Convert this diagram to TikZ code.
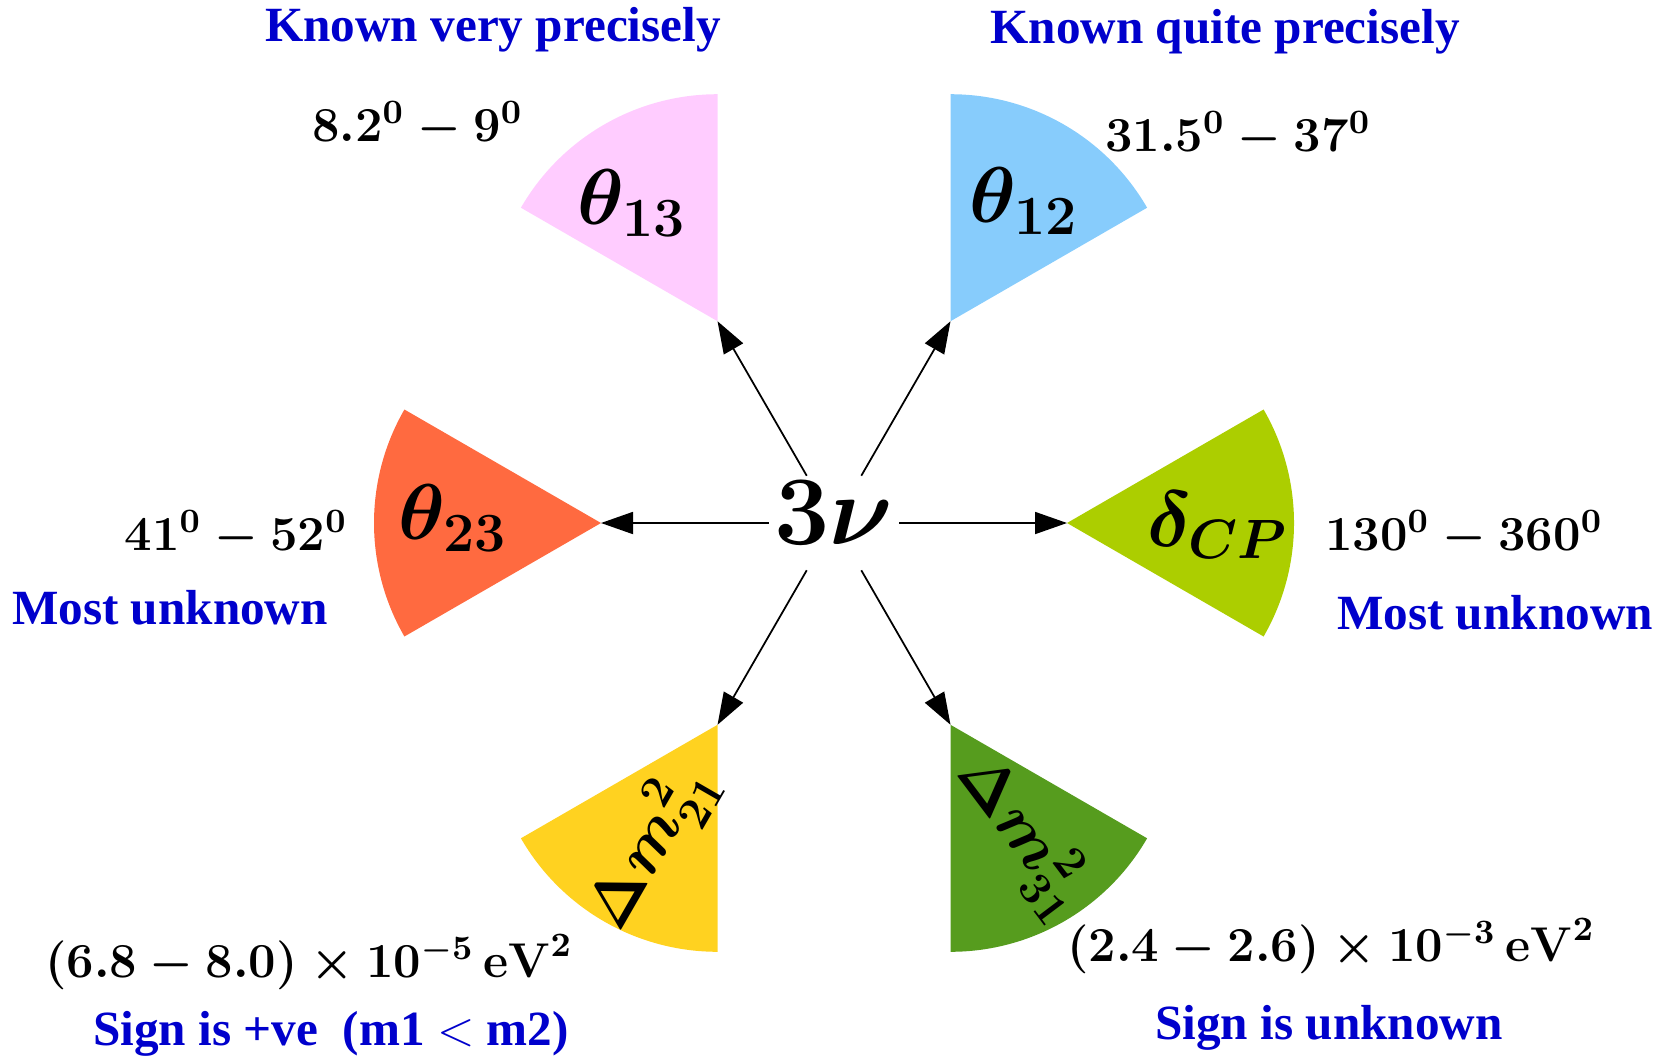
\RequirePackage{fix-cm}
\documentclass[tikz,border=0pt]{standalone}
\definecolor{pinkfill}{RGB}{255,204,255}
\definecolor{skyfill}{RGB}{135,204,252}
\definecolor{tomatofill}{RGB}{255,106,64}
\definecolor{limefill}{RGB}{172,206,0}
\definecolor{goldfill}{RGB}{255,210,32}
\definecolor{grassfill}{RGB}{86,156,30}
\definecolor{noteblue}{RGB}{0,0,204}
\usepackage[no-math]{fontspec}
\newfontfamily\notefont{Liberation Serif}
\usepackage{tikz}
\usetikzlibrary{arrows.meta,calc}

\begin{document}
\begin{tikzpicture}[
        param/.style={font=\fontsize{22.5}{27}\selectfont\boldmath},
        massparam/.style={font=\fontsize{18.5}{22}\selectfont\boldmath},
        valbold/.style={font=\fontsize{13.9}{16}\selectfont\boldmath},
        note/.style={text=noteblue,font=\fontsize{14}{17}\selectfont\notefont\bfseries},
        arrow/.style={-{Triangle[length=3.2mm,width=2.2mm]},line width=0.5pt}
    ]
        \useasboundingbox (0,0) rectangle (16.58,10.58);
        \coordinate (c) at (8.34,5.35);

        % Sectors
        \foreach \ang/\col/\name in {0/limefill/acp,60/skyfill/a12,120/pinkfill/a13,
                                     180/tomatofill/a23,240/goldfill/a21,300/grassfill/a31}{
            \coordinate (\name) at ($(c)+(\ang:2.33)$);
            \fill[\col] (\name) -- ++({\ang-30}:2.27)
                arc[start angle={\ang-30},end angle={\ang+30},radius=2.27] -- cycle;
        }

        % Centre
        \node[font=\fontsize{28}{34}\selectfont\boldmath,inner sep=0.5mm,text depth=5.6pt]
            (nu) at (c) {$3\nu$};

        % Parameters
        \node[param] (t13) at (6.32,8.55) {$\theta_{13}$};
        \node[param] (t12) at (10.24,8.57) {$\theta_{12}$};
        \node[param] (t23) at (4.53,5.40) {$\theta_{23}$};
        \node[param] (dcp) at (12.18,5.33) {$\delta_{CP}$};
        \node[massparam,rotate=60] (m21) at (6.51,2.11) {$\Delta m^2_{21}$};
        \node[massparam,rotate=-53] (m31) at (10.23,2.22) {$\Delta m^2_{31}$};

        % Ranges
        \node[valbold] (r13) at (4.175,9.33) {$8.2^0-9^0$};
        \node[valbold] (r12) at (12.38,9.23) {$31.5^0-37^0$};
        \node[valbold] (r23) at (2.36,5.24) {$41^0-52^0$};
        \node[valbold] (rcp) at (14.64,5.24) {$130^0-360^0$};
        \node[valbold] (r21) at (3.09,0.96) {$(6.8-8.0)\times10^{-5}\,\mathbf{eV}^2$};
        \node[valbold] (r31) at (13.31,1.12) {$(2.4-2.6)\times10^{-3}\,\mathbf{eV}^2$};

        % Notes
        \node[note] (n13) at (4.93,10.28) {Known very precisely};
        \node[note] (n12) at (12.25,10.26) {Known quite precisely};
        \node[note] (n23) at (1.70,4.50) {Most unknown};
        \node[note] (ncp) at (14.95,4.45) {Most unknown};
        \node[note] (n21) at (3.31,0.24) {Sign is +ve\ \ (m1 $<$ m2)};
        \node[note] (n31) at (13.29,0.30) {Sign is unknown};

        % Arrows
        \foreach \name in {acp,a12,a13,a23,a21,a31}
            \draw[arrow] (nu) -- (\name);
    \end{tikzpicture}
\end{document}
